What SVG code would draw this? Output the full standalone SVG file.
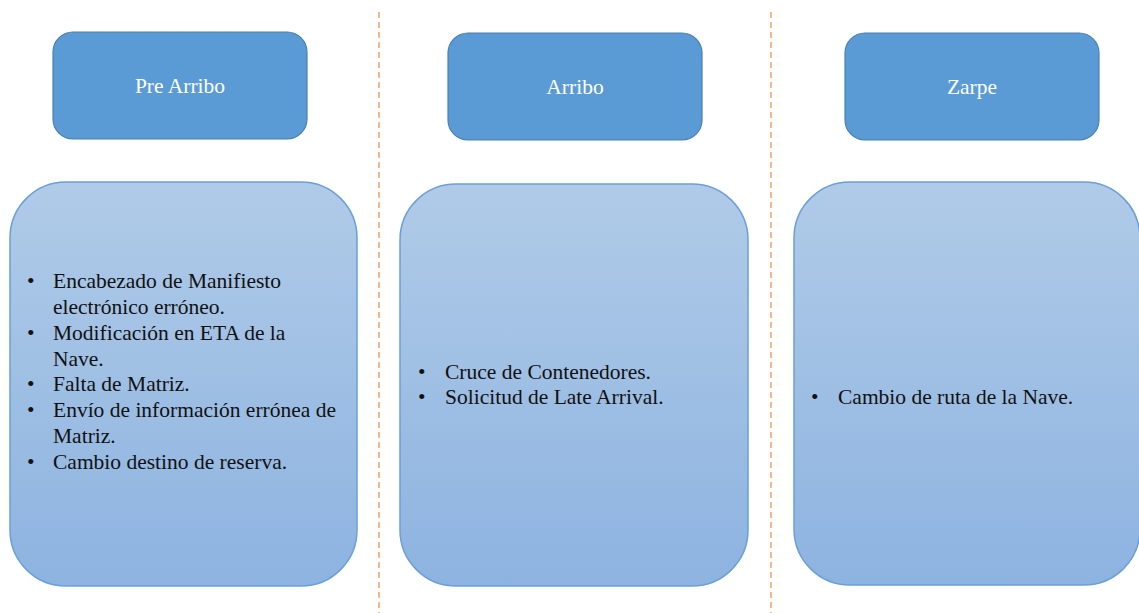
<svg xmlns="http://www.w3.org/2000/svg" width="1139" height="613" viewBox="0 0 1139 613">
<style>
.hdr{fill:#5b9bd5;stroke:#4a7fb2;stroke-width:1.2}
.body{fill:url(#g);stroke:#6a9fd8;stroke-width:1.5}
.ht{font-family:"Liberation Serif",serif;font-size:21.5px;fill:#ffffff;text-anchor:middle}
.bt{font-family:"Liberation Serif",serif;font-size:21.5px;fill:#111111}
.sep{stroke:#f0914f;stroke-width:1.3;stroke-dasharray:6,4;fill:none}
</style>
<defs>
<linearGradient id="g" x1="0" y1="0" x2="0" y2="1">
<stop offset="0" stop-color="#b0cbe8"/>
<stop offset="1" stop-color="#8db3e0"/>
</linearGradient>
</defs>
<g id="connectors">
<line class="sep" x1="379" y1="12" x2="379" y2="613"/>
<line class="sep" x1="771" y1="12" x2="771" y2="613"/>
</g>
<g id="pre-arribo-header">
<rect class="hdr" x="53" y="32" width="254" height="107" rx="20"/>
<text class="ht" x="180" y="93">Pre Arribo</text>
</g>
<g id="arribo-header">
<rect class="hdr" x="448" y="33" width="254" height="107" rx="20"/>
<text class="ht" x="575" y="94">Arribo</text>
</g>
<g id="zarpe-header">
<rect class="hdr" x="845" y="33" width="254" height="107" rx="20"/>
<text class="ht" x="972" y="94">Zarpe</text>
</g>
<g id="pre-arribo-body">
<rect class="body" x="10" y="182" width="347" height="404" rx="56"/>
<text class="bt">
<tspan x="27" y="288">•</tspan><tspan x="53" y="288">Encabezado de Manifiesto</tspan>
<tspan x="53" y="314">electrónico erróneo.</tspan>
<tspan x="27" y="340">•</tspan><tspan x="53" y="340">Modificación en ETA de la</tspan>
<tspan x="53" y="366">Nave.</tspan>
<tspan x="27" y="391">•</tspan><tspan x="53" y="391">Falta de Matriz.</tspan>
<tspan x="27" y="417">•</tspan><tspan x="53" y="417">Envío de información errónea de</tspan>
<tspan x="53" y="443">Matriz.</tspan>
<tspan x="27" y="469">•</tspan><tspan x="53" y="469">Cambio destino de reserva.</tspan>
</text>
</g>
<g id="arribo-body">
<rect class="body" x="400" y="184" width="348" height="402" rx="56"/>
<text class="bt">
<tspan x="418" y="379">•</tspan><tspan x="445" y="379">Cruce de Contenedores.</tspan>
<tspan x="418" y="404">•</tspan><tspan x="445" y="404">Solicitud de Late Arrival.</tspan>
</text>
</g>
<g id="zarpe-body">
<rect class="body" x="794" y="182" width="346" height="403" rx="56"/>
<text class="bt">
<tspan x="811" y="404">•</tspan><tspan x="838" y="404">Cambio de ruta de la Nave.</tspan>
</text>
</g>
</svg>
